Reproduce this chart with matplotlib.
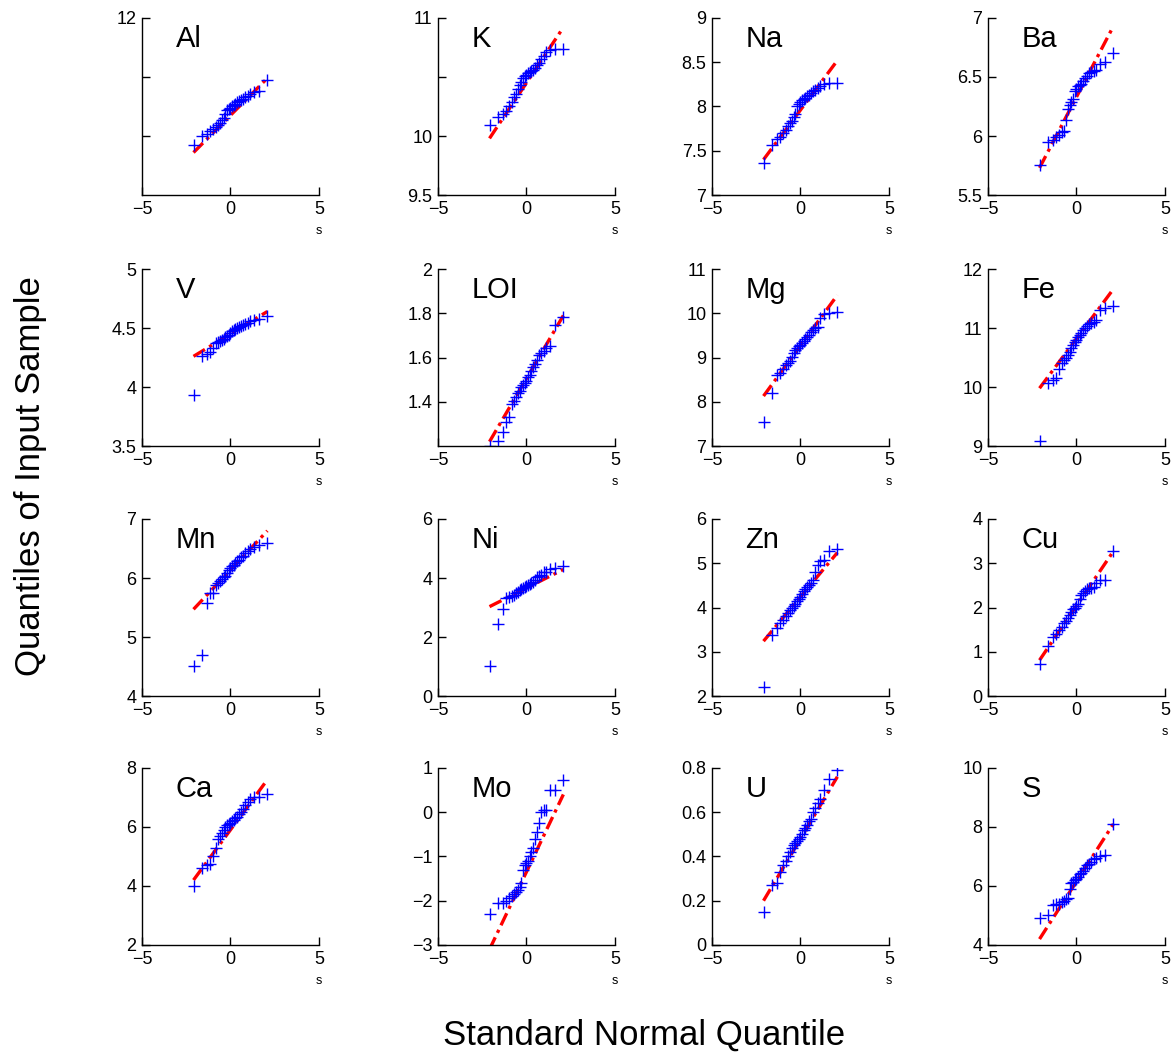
import matplotlib
matplotlib.use("Agg")
import matplotlib.pyplot as plt

plt.rcParams['font.family'] = ['Liberation Sans', 'DejaVu Sans']

# standard normal quantiles of the 27 samples (x axis of every panel)
xq = [-2.086, -1.593, -1.325, -1.128, -0.967, -0.829, -0.704, -0.589, -0.482,
      -0.380, -0.282, -0.187, -0.093, 0.0, 0.093, 0.187, 0.282, 0.380, 0.482,
      0.589, 0.704, 0.829, 0.967, 1.128, 1.325, 1.593, 2.086]

names = ["Al", "K", "Na", "Ba",
         "V", "LOI", "Mg", "Fe",
         "Mn", "Ni", "Zn", "Cu",
         "Ca", "Mo", "U", "S"]

al = [9.85, 10.00, 10.04, 10.08, 10.12, 10.15, 10.18, 10.22, 10.27, 10.31, 10.38, 10.44, 10.46, 10.48,
      10.50, 10.52, 10.55, 10.57, 10.59, 10.61, 10.63, 10.66, 10.68, 10.72, 10.74, 10.76, 10.95]
k = [10.09, 10.16, 10.19, 10.21, 10.25, 10.29, 10.33, 10.36, 10.40, 10.43, 10.46, 10.49, 10.51, 10.52,
     10.53, 10.54, 10.55, 10.56, 10.58, 10.60, 10.62, 10.65, 10.68, 10.71, 10.73, 10.735, 10.74]
na = [7.36, 7.56, 7.63, 7.66, 7.70, 7.74, 7.78, 7.81, 7.84, 7.88, 7.92, 8.00, 8.03, 8.05,
      8.07, 8.09, 8.10, 8.12, 8.13, 8.15, 8.17, 8.19, 8.21, 8.23, 8.25, 8.26, 8.27]
ba = [5.755, 5.945, 5.97, 5.99, 6.01, 6.03, 6.04, 6.135, 6.23, 6.26, 6.29, 6.31, 6.38, 6.40,
      6.42, 6.43, 6.44, 6.47, 6.49, 6.51, 6.53, 6.54, 6.55, 6.56, 6.61, 6.625, 6.705]
v = [3.93, 4.26, 4.28, 4.30, 4.33, 4.37, 4.385, 4.39, 4.40, 4.41, 4.42, 4.43, 4.44, 4.46,
     4.475, 4.48, 4.49, 4.50, 4.51, 4.52, 4.525, 4.53, 4.545, 4.56, 4.57, 4.58, 4.605]
loi = [1.20, 1.223, 1.264, 1.31, 1.33, 1.39, 1.405, 1.42, 1.44, 1.45, 1.465, 1.475, 1.485, 1.495,
       1.51, 1.52, 1.54, 1.555, 1.57, 1.59, 1.61, 1.62, 1.63, 1.645, 1.65, 1.745, 1.785]
mg = [7.54, 8.20, 8.60, 8.65, 8.75, 8.82, 8.88, 8.93, 9.02, 9.10, 9.16, 9.21, 9.25, 9.29,
      9.33, 9.38, 9.42, 9.47, 9.52, 9.58, 9.62, 9.66, 9.70, 9.89, 9.98, 10.01, 10.02]
fe = [9.085, 10.06, 10.12, 10.16, 10.30, 10.40, 10.45, 10.49, 10.55, 10.60, 10.66, 10.71, 10.76, 10.80,
      10.85, 10.88, 10.91, 10.96, 11.00, 11.03, 11.07, 11.09, 11.11, 11.14, 11.31, 11.34, 11.37]
mn = [4.51, 4.70, 5.57, 5.74, 5.75, 5.88, 5.92, 5.95, 5.98, 6.01, 6.04, 6.08, 6.13, 6.17,
      6.20, 6.22, 6.26, 6.29, 6.31, 6.35, 6.38, 6.42, 6.45, 6.49, 6.52, 6.56, 6.59]
ni = [1.02, 2.43, 2.94, 3.32, 3.36, 3.40, 3.44, 3.50, 3.54, 3.58, 3.62, 3.66, 3.70, 3.73,
      3.76, 3.80, 3.84, 3.88, 3.93, 4.03, 4.08, 4.11, 4.20, 4.22, 4.30, 4.33, 4.39]
zn = [2.20, 3.38, 3.53, 3.65, 3.72, 3.80, 3.87, 3.94, 3.99, 4.04, 4.09, 4.14, 4.19, 4.24,
      4.30, 4.37, 4.42, 4.47, 4.51, 4.56, 4.62, 4.81, 4.95, 5.04, 5.08, 5.27, 5.32]
cu = [0.73, 1.13, 1.34, 1.40, 1.49, 1.57, 1.64, 1.70, 1.76, 1.82, 1.90, 1.97, 2.00, 2.04,
      2.09, 2.20, 2.28, 2.33, 2.38, 2.41, 2.43, 2.45, 2.47, 2.55, 2.62, 2.62, 3.27]
ca = [4.0, 4.6, 4.7, 4.75, 5.0, 5.3, 5.6, 5.7, 5.8, 5.9, 6.0, 6.05, 6.1, 6.15,
      6.2, 6.25, 6.3, 6.35, 6.45, 6.5, 6.6, 6.75, 6.85, 6.95, 7.0, 7.0, 7.1]
mo = [-2.3, -2.05, -2.05, -2.0, -1.95, -1.9, -1.85, -1.8, -1.75, -1.7, -1.6, -1.3, -1.2, -1.15,
      -1.1, -1.0, -0.9, -0.8, -0.6, -0.45, -0.25, 0.0, 0.05, 0.05, 0.5, 0.5, 0.72]
u = [0.15, 0.27, 0.28, 0.33, 0.36, 0.38, 0.40, 0.42, 0.44, 0.45, 0.46, 0.47, 0.48, 0.49,
     0.50, 0.52, 0.53, 0.54, 0.56, 0.57, 0.60, 0.62, 0.64, 0.66, 0.70, 0.75, 0.79]
s = [4.9, 5.0, 5.35, 5.38, 5.4, 5.45, 5.5, 5.55, 5.6, 5.9, 6.1, 6.15, 6.2, 6.25,
     6.3, 6.4, 6.45, 6.5, 6.6, 6.7, 6.75, 6.8, 6.9, 6.95, 7.0, 7.05, 8.1]

samples = [al, k, na, ba, v, loi, mg, fe, mn, ni, zn, cu, ca, mo, u, s]

# reference line (through the quartiles) at the smallest and largest quantile
line_ends = [(9.72, 10.98), (9.98, 10.92), (7.40, 8.52), (5.73, 6.93),
             (4.26, 4.64), (1.22, 1.79), (8.13, 10.41), (9.98, 11.66),
             (5.47, 6.80), (3.03, 4.29), (3.24, 5.24), (0.81, 3.27),
             (4.2, 7.6), (-3.1, 0.4), (0.2, 0.76), (4.2, 8.1)]

ylims = [(9, 12), (9.5, 11), (7, 9), (5.5, 7),
         (3.5, 5), (1.2, 2), (7, 11), (9, 12),
         (4, 7), (0, 6), (2, 6), (0, 4),
         (2, 8), (-3, 1), (0, 0.8), (4, 10)]
yticks = [[10, 11, 12], [9.5, 10, 10.5, 11], [7, 7.5, 8, 8.5, 9], [5.5, 6, 6.5, 7],
          [3.5, 4, 4.5, 5], [1.4, 1.6, 1.8, 2], [7, 8, 9, 10, 11], [9, 10, 11, 12],
          [4, 5, 6, 7], [0, 2, 4, 6], [2, 3, 4, 5, 6], [0, 1, 2, 3, 4],
          [2, 4, 6, 8], [-3, -2, -1, 0, 1], [0, 0.2, 0.4, 0.6, 0.8], [4, 6, 8, 10]]
yticklabels = [["", "", "12"], ["9.5", "10", "", "11"], None, None,
               None, None, None, None,
               None, None, None, None,
               None, None, None, None]

fig = plt.figure(figsize=(11.76, 10.57), dpi=100)

lefts = [0.1207, 0.3724, 0.6054, 0.8401]
bottoms = [0.8155, 0.578, 0.3415, 0.106]
w, h = 0.1505, 0.1675

for i, name in enumerate(names):
    r, c = divmod(i, 4)
    ax = fig.add_axes([lefts[c], bottoms[r], w, h])
    lo, hi = line_ends[i]
    ax.plot([xq[0], xq[-1]], [lo, hi], color='red', ls=(0, (4, 1.5, 1, 1.5)), lw=2.4)
    ax.plot(xq, samples[i], '+', color='blue', ms=9, mew=1.0)
    ax.set_xlim(-5, 5)
    ax.set_ylim(*ylims[i])
    ax.set_xticks([-5, 0, 5])
    ax.set_xticklabels(['\u22125', '0', '5'])
    ax.set_yticks(yticks[i])
    if yticklabels[i] is not None:
        ax.set_yticklabels(yticklabels[i])
    else:
        ax.set_yticklabels([('%g' % t).replace('-', '\u2212') for t in yticks[i]])
    for side in ['top', 'right']:
        ax.spines[side].set_visible(False)
    for side in ['left', 'bottom']:
        ax.spines[side].set_linewidth(1.0)
    ax.tick_params(direction='in', length=6, width=1.0, labelsize=13, pad=4)
    ax.text(0.19, 0.88, name, transform=ax.transAxes, fontsize=21, ha='left', va='center')
    ax.text(1.0, -0.205, 's', transform=ax.transAxes, fontsize=9, ha='center', va='center')

fig.text(0.548, 0.021, 'Standard Normal Quantile', fontsize=25, ha='center', va='center')
fig.text(0.026, 0.55, 'Quantiles of Input Sample', fontsize=25, ha='center', va='center',
         rotation=90)

fig.savefig('out.png', dpi=100, facecolor='white')
